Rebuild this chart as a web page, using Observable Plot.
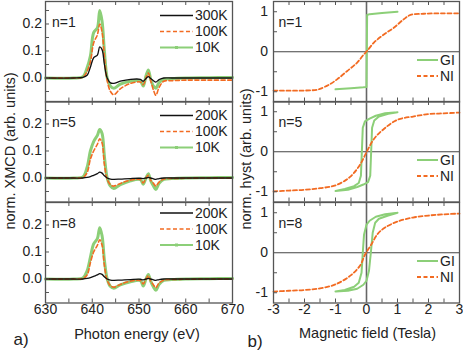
<!DOCTYPE html>
<html><head><meta charset="utf-8">
<script src="https://cdn.jsdelivr.net/npm/d3@7"></script>
<script src="https://cdn.jsdelivr.net/npm/@observablehq/plot@0.6"></script>
<style>
body{margin:0;background:#fff;}
#wrap{position:relative;width:463px;height:351px;font-family:"Liberation Sans",Arial,sans-serif;color:#222;overflow:hidden;background:#fff}
#wrap svg{position:absolute}
.lbl{position:absolute;white-space:nowrap;transform:translate(-50%,-50%);font-size:14.5px;line-height:1}
.rot{transform:translate(-50%,-50%) rotate(-90deg)}
</style></head><body><div id="wrap"></div>
<script>
// ---------- XMCD spectra (photon energy in eV) ----------
const energy = [630, 636, 638, 638.9, 639.6, 640.3, 641.1, 641.6, 642.1, 642.6, 643.2, 643.9, 644.6, 646, 648.2, 650.3, 650.9, 651.5, 652, 652.5, 653.1, 653.6, 654.3, 655.3, 657, 660, 665, 670];
const n1_300K = [0, 0, 0.002, 0.01, 0.04, 0.075, 0.085, 0.115, 0.105, 0.05, 0.0, -0.018, -0.02, -0.012, -0.005, -0.005, -0.012, -0.002, 0.005, -0.002, -0.01, -0.015, -0.006, 0, 0, 0, 0, 0];
const n1_100K = [0, 0, 0.003, 0.025, 0.06, 0.13, 0.16, 0.2, 0.17, 0.08, -0.01, -0.05, -0.062, -0.04, -0.02, -0.015, -0.025, 0.0, 0.018, -0.01, -0.045, -0.064, -0.035, -0.012, -0.01, -0.008, -0.008, -0.008];
const n1_10K  = [0, 0, 0.005, 0.038, 0.081, 0.168, 0.186, 0.25, 0.21, 0.1, 0.0, -0.03, -0.038, -0.023, -0.012, -0.012, -0.03, 0.008, 0.03, -0.005, -0.03, -0.038, -0.017, -0.005, -0.002, 0.0, 0.001, 0.002];
const n5_200K = [0, 0, 0, 0.002, 0.005, 0.01, 0.016, 0.022, 0.018, 0.008, 0, -0.004, -0.005, -0.004, -0.002, -0.001, -0.002, 0, 0.002, 0, -0.003, -0.005, -0.002, 0, 0, 0, 0, 0];
const n5_100K = [0, 0, 0.002, 0.02, 0.07, 0.1, 0.125, 0.145, 0.13, 0.05, -0.005, -0.025, -0.03, -0.02, -0.008, -0.006, -0.018, 0.0, 0.01, -0.008, -0.02, -0.03, -0.015, -0.004, -0.002, -0.001, 0, 0];
const n5_10K  = [0, 0, 0.004, 0.04, 0.1, 0.135, 0.158, 0.18, 0.165, 0.08, 0.0, -0.03, -0.039, -0.025, -0.01, -0.006, -0.023, 0.0, 0.016, -0.01, -0.03, -0.043, -0.02, -0.005, -0.002, 0, 0.001, 0.002];
const n8_200K = [0, 0, 0, 0.002, 0.005, 0.01, 0.015, 0.02, 0.017, 0.008, 0, -0.004, -0.005, -0.004, -0.002, -0.001, -0.003, 0, 0.002, 0, -0.003, -0.005, -0.002, 0, 0, 0, 0, 0];
const n8_100K = [0, 0, 0.002, 0.015, 0.06, 0.1, 0.125, 0.145, 0.125, 0.05, -0.005, -0.025, -0.03, -0.02, -0.008, -0.006, -0.018, 0.0, 0.012, -0.008, -0.022, -0.032, -0.015, -0.004, -0.002, -0.001, 0, 0];
const n8_10K  = [0, 0, 0.004, 0.03, 0.08, 0.13, 0.15, 0.19, 0.16, 0.07, 0.0, -0.028, -0.034, -0.022, -0.01, -0.006, -0.026, 0.0, 0.017, -0.008, -0.03, -0.042, -0.02, -0.005, -0.002, 0, 0.001, 0.002];

// ---------- Hysteresis loops (field in Tesla) ----------
const n1_GI_field = [-1, -0.5, -0.1, 0, 0.02, 0.1, 0.5, 1];
const n1_GI_m     = [-0.94, -0.91, -0.89, -0.88, 0.92, 0.94, 0.97, 1.0];
const n1_NI_field = [-3, -2, -1.6, -1.48, -1.2, -0.95, -0.62, -0.3, -0.09, 0.02, 0.24, 0.56, 0.88, 1.2, 1.42, 1.85, 2.4, 3];
const n1_NI_m     = [-0.97, -0.97, -0.95, -0.92, -0.82, -0.69, -0.48, -0.27, -0.07, 0.02, 0.23, 0.43, 0.6, 0.81, 0.92, 0.95, 0.96, 0.96];
const n5_GI_field = [1, 0.6, 0.3, 0.1, -0.05, -0.12, -0.18, -0.25, -0.4, -0.7, -1, -0.6, -0.3, -0.1, 0.05, 0.12, 0.18, 0.25, 0.4, 0.7, 1];
const n5_GI_m     = [0.99, 0.96, 0.9, 0.83, 0.76, 0.6, -0.6, -0.78, -0.86, -0.93, -0.98, -0.95, -0.88, -0.82, -0.76, -0.6, 0.6, 0.78, 0.88, 0.95, 0.99];
const n5_NI_field = [-3, -2.5, -2, -1.5, -1, -0.55, -0.23, 0.02, 0.24, 0.56, 1, 1.5, 2, 2.5, 3];
const n5_NI_m     = [-0.99, -0.97, -0.95, -0.91, -0.84, -0.64, -0.35, 0.02, 0.32, 0.57, 0.8, 0.88, 0.94, 0.96, 0.98];
const n8_GI_field = [1, 0.6, 0.3, 0.1, 0, -0.08, -0.12, -0.16, -0.25, -0.4, -0.7, -1, -0.6, -0.3, -0.1, 0, 0.08, 0.14, 0.2, 0.28, 0.4, 0.7, 1];
const n8_GI_m     = [1.0, 0.96, 0.9, 0.8, 0.7, 0.45, 0.0, -0.5, -0.75, -0.85, -0.93, -0.97, -0.95, -0.9, -0.8, -0.7, -0.45, 0.0, 0.5, 0.75, 0.85, 0.93, 1.0];
const n8_NI_field = [-3, -2.5, -2, -1.5, -1, -0.5, -0.2, -0.05, 0.15, 0.37, 0.6, 1, 1.5, 2, 2.5, 3];
const n8_NI_m     = [-0.97, -0.95, -0.93, -0.89, -0.79, -0.56, -0.31, -0.05, 0.2, 0.48, 0.63, 0.78, 0.88, 0.93, 0.96, 0.98];

// ---------- ticks & labels ----------
const xTicksL = [635, 640, 645, 650, 655, 660, 665];
const xLabelsL = [630, 640, 650, 660, 670];
const yTicksL = [-0.05, 0, 0.05, 0.1, 0.15, 0.2, 0.25];
const yLabelsL = [0, 0.1, 0.2];
const xTicksR = [-2.5, -2, -1.5, -1, -0.5, 0.5, 1, 1.5, 2, 2.5];
const xLabelsR = [-3, -2, -1, 0, 1, 2, 3];
const yTicksR = [-1, -0.5, 0.5, 1];
const yLabelsR = [-1, 0, 1];
const panelLabels = ["n=1", "n=5", "n=8"];
const tempLabels = [["300K", "100K", "10K"], ["200K", "100K", "10K"], ["200K", "100K", "10K"]];
const loopLabels = ["GI", "NI"];

const BLACK = "#111", ORANGE = "#f26b22", GREEN = "#8ccf78", AX = "#555", TXT = "#222";
const PH = 100.5, MT = 1, MB = 33;
const LW = 240, LML = 45, LMR = 8;
const RX = 230, RW = 233, RML = 43, RMR = 4;
const wrap = document.getElementById("wrap");

function legendMark(items, x0, x1, tx, ys) {
  return () => {
    const g = d3.create("svg:g").attr("font-size", 14).attr("fill", TXT).attr("text-anchor", "start");
    items.forEach((it, i) => {
      const y = MT + ys[i];
      g.append("line").attr("x1", x0).attr("x2", x1).attr("y1", y).attr("y2", y)
        .attr("stroke", it.stroke).attr("stroke-width", it.width).attr("stroke-dasharray", it.dash || null);
      if (it.marker) g.append("rect").attr("x", (x0 + x1) / 2 - 1.5).attr("y", y - 1.5).attr("width", 3).attr("height", 3).attr("fill", it.stroke);
      g.append("text").attr("x", tx).attr("y", y).attr("dy", "0.35em").attr("text-anchor", "start").text(it.label);
    });
    return g.node();
  };
}

function xmcdPanel(row, series) {
  const bottom = row === 2;
  const h = MT + PH + (bottom ? MB : 1);
  const innerW = LW - LML - LMR;
  const curve = "catmull-rom";
  const marks = [
    Plot.line(energy, {x: energy, y: series[2], stroke: GREEN, strokeWidth: 3, curve}),
    Plot.line(energy, {x: energy, y: series[1], stroke: ORANGE, strokeWidth: 1.6, strokeDasharray: "4,2.5", curve}),
    Plot.line(energy, {x: energy, y: series[0], stroke: BLACK, strokeWidth: 1.3, curve}),
    Plot.tickX(xTicksL, {x: d => d, insetTop: PH - 4, stroke: AX}),
    Plot.tickX(xTicksL, {x: d => d, insetBottom: PH - 4, stroke: AX}),
    Plot.tickY(yTicksL, {y: d => d, insetRight: innerW - 4, stroke: AX}),
    Plot.frame({stroke: AX, strokeWidth: 1.3}),
    Plot.text(yLabelsL, {y: d => d, text: d => d.toFixed(1), frameAnchor: "left", textAnchor: "end", dx: -3.5, fontSize: 14, fill: TXT}),
    Plot.text([panelLabels[row]], {text: d => d, frameAnchor: "top-left", textAnchor: "start", dx: 6.5, dy: 15.5, fontSize: 14, fill: TXT}),
    legendMark([
      {label: tempLabels[row][0], stroke: BLACK, width: 1.5},
      {label: tempLabels[row][1], stroke: ORANGE, width: 1.6, dash: "4,2.5"},
      {label: tempLabels[row][2], stroke: GREEN, width: 2, marker: true}
    ], 160, 193, 195, row === 2 ? [11, 27, 43] : [14.5, 30.5, 46.5])
  ];
  if (bottom) marks.push(Plot.text(xLabelsL, {x: d => d, text: d => String(d), frameAnchor: "bottom", dy: 11, fontSize: 14, fill: TXT}));
  const svg = Plot.plot({
    width: LW, height: h, marginLeft: LML, marginRight: LMR, marginTop: MT, marginBottom: bottom ? MB : 1,
    x: {domain: [630, 670], axis: null},
    y: {domain: [-0.0889, 0.2833], axis: null},
    style: {background: "transparent", overflow: "visible", fontFamily: "Liberation Sans, Arial, sans-serif"},
    marks
  });
  svg.style.left = "0px";
  svg.style.top = (0.5 + row * PH - MT) + "px";
  wrap.appendChild(svg);
}

function loopPanel(row, gi, ni) {
  const bottom = row === 2;
  const h = MT + PH + (bottom ? MB : 1);
  const innerW = RW - RML - RMR;
  const marks = [
    Plot.ruleY([0], {stroke: "#444", strokeWidth: 1}),
    Plot.ruleX([0], {stroke: "#666", strokeWidth: 1.6}),
    Plot.line(gi[0], {x: gi[0], y: gi[1], stroke: GREEN, strokeWidth: 2}),
    Plot.line(ni[0], {x: ni[0], y: ni[1], stroke: ORANGE, strokeWidth: 1.8, strokeDasharray: "4,2.5", curve: "catmull-rom"}),
    Plot.tickX(xTicksR, {x: d => d, insetTop: PH - 4, stroke: AX}),
    Plot.tickX(xTicksR, {x: d => d, insetBottom: PH - 4, stroke: AX}),
    Plot.tickY(yTicksR, {y: d => d, insetRight: innerW - 4, stroke: AX}),
    Plot.frame({stroke: AX, strokeWidth: 1.3}),
    Plot.text(yLabelsR, {y: d => d, text: d => String(d), frameAnchor: "left", textAnchor: "end", dx: -5.5, fontSize: 14, fill: TXT}),
    Plot.text([panelLabels[row]], {text: d => d, frameAnchor: "top-left", textAnchor: "start", dx: 5, dy: 15.5, fontSize: 14, fill: TXT}),
    legendMark([
      {label: loopLabels[0], stroke: GREEN, width: 2},
      {label: loopLabels[1], stroke: ORANGE, width: 1.8, dash: "4,2.5"}
    ], 187, 208, 210, [59, 75])
  ];
  if (bottom) marks.push(Plot.text(xLabelsR, {x: d => d, text: d => String(d), frameAnchor: "bottom", dy: 11, fontSize: 14, fill: TXT}));
  const svg = Plot.plot({
    width: RW, height: h, marginLeft: RML, marginRight: RMR, marginTop: MT, marginBottom: bottom ? MB : 1,
    x: {domain: [-3, 3], axis: null},
    y: {domain: [-1.256, 1.256], axis: null},
    style: {background: "transparent", overflow: "visible", fontFamily: "Liberation Sans, Arial, sans-serif"},
    marks
  });
  svg.style.left = RX + "px";
  svg.style.top = (0.5 + row * PH - MT) + "px";
  wrap.appendChild(svg);
}

xmcdPanel(0, [n1_300K, n1_100K, n1_10K]);
xmcdPanel(1, [n5_200K, n5_100K, n5_10K]);
xmcdPanel(2, [n8_200K, n8_100K, n8_10K]);
loopPanel(0, [n1_GI_field, n1_GI_m], [n1_NI_field, n1_NI_m]);
loopPanel(1, [n5_GI_field, n5_GI_m], [n5_NI_field, n5_NI_m]);
loopPanel(2, [n8_GI_field, n8_GI_m], [n8_NI_field, n8_NI_m]);

function label(text, x, y, cls, size) {
  const d = document.createElement("div");
  d.className = "lbl" + (cls ? " " + cls : "");
  d.textContent = text;
  d.style.left = x + "px"; d.style.top = y + "px";
  if (size) d.style.fontSize = size + "px";
  wrap.appendChild(d);
}
label("norm. XMCD (arb. units)", 10, 151, "rot");
label("norm. hyst (arb. units)", 246, 159, "rot");
label("Photon energy (eV)", 137, 334);
label("Magnetic field (Tesla)", 367.5, 333);
label("a)", 21, 339, "", 17);
label("b)", 255, 341, "", 17);
</script></body></html>
